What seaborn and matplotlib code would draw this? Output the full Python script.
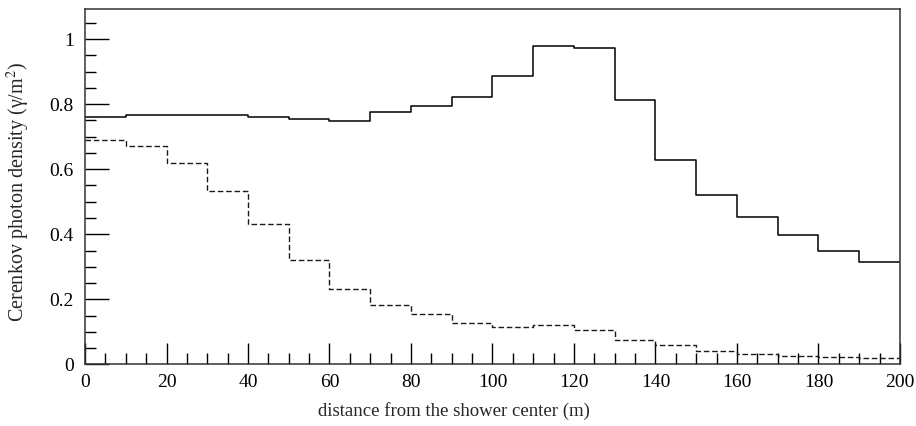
import numpy as np
import pandas as pd
from matplotlib import pyplot as plt
from matplotlib.ticker import MultipleLocator, FixedLocator, FixedFormatter
import seaborn as sns

# bin edges (m) and the two histograms
edges = [0, 10, 20, 30, 40, 50, 60, 70, 80, 90, 100,
         110, 120, 130, 140, 150, 160, 170, 180, 190, 200]
solid_vals = [0.761, 0.767, 0.767, 0.767, 0.761, 0.755, 0.748, 0.775, 0.794, 0.822,
              0.888, 0.979, 0.974, 0.814, 0.629, 0.522, 0.453, 0.398, 0.347, 0.315]
dashed_vals = [0.690, 0.671, 0.620, 0.534, 0.431, 0.321, 0.233, 0.182, 0.154, 0.128,
               0.116, 0.120, 0.107, 0.074, 0.058, 0.041, 0.031, 0.026, 0.023, 0.020]
xtick_vals = [0, 20, 40, 60, 80, 100, 120, 140, 160, 180, 200]
ytick_vals = [0, 0.2, 0.4, 0.6, 0.8, 1.0]
ytick_labels = ['0', '0.2', '0.4', '0.6', '0.8', '1']

sns.set_style('ticks')
plt.rcParams['font.family'] = ['Liberation Serif', 'DejaVu Serif']
plt.rcParams['mathtext.fontset'] = 'stix'

# steps-post needs the last value repeated at the right edge
df_solid = pd.DataFrame({'x': edges, 'y': solid_vals + [solid_vals[-1]]})
df_dash = pd.DataFrame({'x': edges, 'y': dashed_vals + [dashed_vals[-1]]})

fig = plt.figure(figsize=(9.16, 4.26), dpi=100)
ax = fig.add_axes([0.0928, 0.1448, 0.8897, 0.8342])

sns.lineplot(data=df_solid, x='x', y='y', ax=ax, estimator=None,
             drawstyle='steps-post', color='black', lw=1.1)
sns.lineplot(data=df_dash, x='x', y='y', ax=ax, estimator=None,
             drawstyle='steps-post', color='#1a1a1a', lw=1.0, dashes=False,
             linestyle=(0, (4, 2)))

ax.set_xlim(0, 200)
ax.set_ylim(0, 1.093)
ax.xaxis.set_major_locator(FixedLocator(xtick_vals))
ax.xaxis.set_minor_locator(MultipleLocator(5))
ax.yaxis.set_major_locator(FixedLocator(ytick_vals))
ax.yaxis.set_major_formatter(FixedFormatter(ytick_labels))
ax.yaxis.set_minor_locator(MultipleLocator(0.05))
ax.tick_params(which='both', direction='in', labelsize=14, top=False, right=False,
               colors='black', width=1)
ax.tick_params(axis='x', which='major', length=15, pad=7)
ax.tick_params(axis='x', which='minor', length=8)
ax.tick_params(axis='y', which='major', length=17, pad=8)
ax.tick_params(axis='y', which='minor', length=8)
for s in ax.spines.values():
    s.set_linewidth(1.1)
    s.set_color('#333333')

ax.set_xlabel('distance from the shower center (m)', fontsize=13.5)
ax.xaxis.set_label_coords(0.453, -0.105)
ax.set_ylabel('Cerenkov photon density (γ/m$^{2}$)', fontsize=14.5)
ax.yaxis.set_label_coords(-0.065, 0.485)

fig.savefig('out.png', dpi=100)
